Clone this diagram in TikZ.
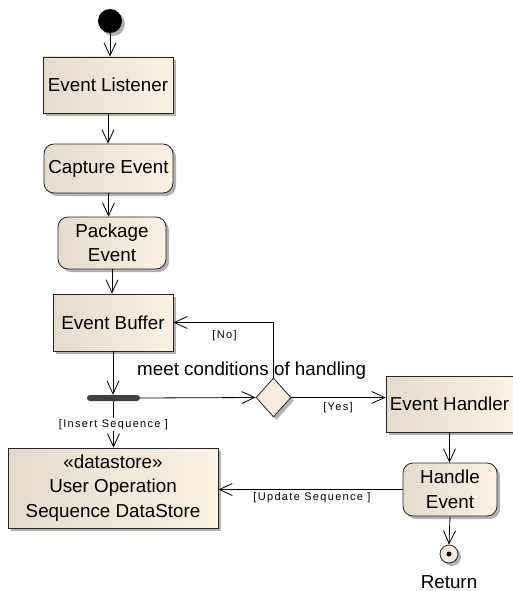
\documentclass[tikz,border=0pt]{standalone}
\usepackage{fontspec}
\setmainfont{Liberation Sans}
\usetikzlibrary{arrows.meta,shapes.geometric,shadows}
\definecolor{boxL}{RGB}{228,219,204}
\definecolor{boxR}{RGB}{251,242,228}
\definecolor{dmd}{RGB}{246,237,224}
\newcommand\mainf{\fontsize{18.8}{24.5}\selectfont}
\newcommand\guardf{\fontsize{11}{13}\selectfont\addfontfeature{LetterSpace=12}}
\tikzset{
  shade/.style={drop shadow={shadow xshift=3pt,shadow yshift=-3pt,fill=black!30,opacity=1}},
  base/.style={draw=black!85, line width=0.8pt, left color=boxL, right color=boxR, shade,
    inner sep=0pt, align=center, font=\mainf},
  actbox/.style={base, rectangle},
  actround/.style={base, rectangle, rounded corners=10pt},
  flow/.style={draw=black, line width=0.8pt, -{Straight Barb[length=13pt,width=12pt,line width=0.8pt]}},
  guard/.style={font=\guardf, inner sep=1pt},
  plain/.style={font=\mainf, inner sep=0pt}
}
\begin{document}
\begin{tikzpicture}[x=1pt,y=-1pt]
\useasboundingbox (0,0) rectangle (513,591);
% nodes
\node[circle, fill=black, minimum size=24pt, inner sep=0pt, shade] (start) at (110,21) {};
\node[actbox, minimum width=130pt, minimum height=56pt] (listener) at (108,85) {Event Listener};
\node[actround, minimum width=129pt, minimum height=49pt] (capture) at (108.5,168.5) {Capture Event};
\node[actround, minimum width=108pt, minimum height=52pt] (package) at (112,243) {Package\\Event};
\node[actbox, minimum width=120pt, minimum height=57pt] (buffer) at (113,322.5) {Event Buffer};
\node[rectangle, fill=black!75, rounded corners=3pt, minimum width=53pt, minimum height=6pt, inner sep=0pt] (fork) at (113.5,398) {};
\node[actbox, minimum width=210pt, minimum height=80pt] (store) at (113,488) {«datastore»\\User Operation\\Sequence DataStore};
\node[diamond, draw=black!85, line width=0.8pt, fill=dmd, shade, minimum width=35pt, minimum height=39pt, inner sep=0pt] (dec) at (273.5,397.5) {};
\node[actbox, minimum width=127pt, minimum height=56pt] (handler) at (449.5,404) {Event Handler};
\node[actround, minimum width=94pt, minimum height=53pt] (handle) at (450,489.5) {Handle\\Event};
\node[circle, draw=black!85, line width=0.8pt, fill=dmd, shade, minimum size=18pt, inner sep=0pt] (final) at (449,554) {};
\node[circle, fill=black, minimum size=5pt, inner sep=0pt] (finaldot) at (final.center) {};
\node[plain, anchor=base] (ret) at (449,588) {Return};
\node[plain, anchor=base west] (cond) at (137,375) {meet conditions of handling};
% edges
\draw[flow] (start) -- (start |- listener.north);
\draw[flow] (listener.south) -- (listener.south |- capture.north);
\draw[flow] (capture.south) -- (capture.south |- package.north);
\draw[flow] (package.south) -- (package.south |- buffer.north);
\draw[flow] (buffer.south) -- (buffer.south |- fork.north);
\draw[flow] (fork.south) -- node[guard, fill=white] (lins) {[Insert Sequence ]} (fork.south |- store.north);
\draw[flow] (fork.east) -- (dec.west);
\draw[flow] (dec.north) |- (buffer.east);
\draw[flow] (dec.east) -- (dec.east -| handler.west);
\draw[flow] (handler.south) -- (handler.south |- handle.north);
\draw[flow] (handle.west) -- (handle.west -| store.east);
\draw[flow] (handle.south) -- (final.north);
% guard labels
\node[guard] (lno) at (224.5,336) {[No]};
\node[guard] (lyes) at (338,408) {[Yes]};
\node[guard] (lupd) at (312,498) {[Update Sequence ]};
\end{tikzpicture}
\end{document}
